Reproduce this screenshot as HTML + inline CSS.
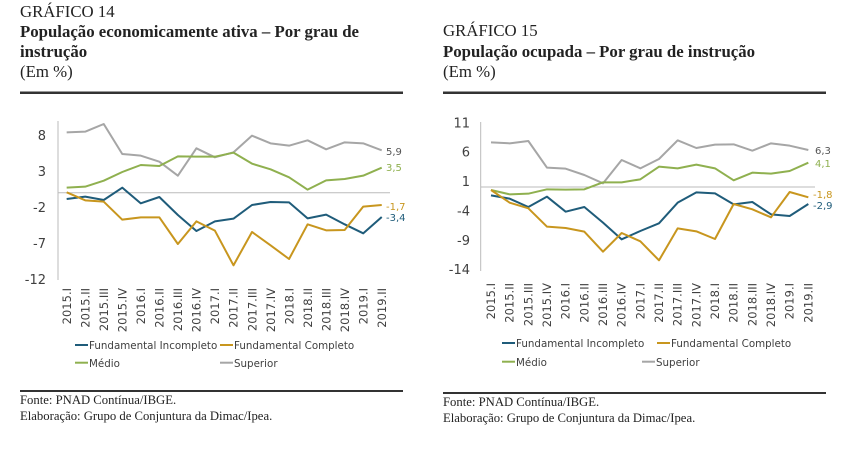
<!DOCTYPE html>
<html><head><meta charset="utf-8"><style>
body{margin:0;background:#fff;width:841px;height:463px;overflow:hidden}
svg{display:block}
.t{font-family:"Liberation Serif",serif;fill:#222}
.a{font-family:"DejaVu Sans","Liberation Sans",sans-serif;fill:#404040}
</style></head><body>
<svg width="841" height="463" viewBox="0 0 841 463" xmlns="http://www.w3.org/2000/svg">
<text class="t" x="20" y="17" font-size="16.8">GRÁFICO 14</text>
<text class="t" x="20" y="37" font-size="16.8" font-weight="bold">População economicamente ativa – Por grau de</text>
<text class="t" x="20" y="57" font-size="16.8" font-weight="bold">instrução</text>
<text class="t" x="20" y="77" font-size="16.8">(Em %)</text>
<rect x="20" y="91.5" width="383" height="2.5" fill="#333"/>
<text class="t" x="443" y="36" font-size="16.8">GRÁFICO 15</text>
<text class="t" x="443" y="57" font-size="16.8" font-weight="bold">População ocupada – Por grau de instrução</text>
<text class="t" x="443" y="77" font-size="16.8">(Em %)</text>
<rect x="443" y="91.5" width="383" height="2.5" fill="#333"/>
<rect x="20" y="390" width="383" height="2" fill="#333"/>
<text class="t" x="20" y="404" font-size="12.7">Fonte: PNAD Contínua/IBGE.</text>
<text class="t" x="20" y="420" font-size="12.7">Elaboração: Grupo de Conjuntura da Dimac/Ipea.</text>
<rect x="443" y="392" width="383" height="2" fill="#333"/>
<text class="t" x="443" y="406" font-size="12.7">Fonte: PNAD Contínua/IBGE.</text>
<text class="t" x="443" y="422" font-size="12.7">Elaboração: Grupo de Conjuntura da Dimac/Ipea.</text>

<!-- Chart 1 -->
<line x1="58" y1="121" x2="58" y2="280" stroke="#bbb"/>
<line x1="58" y1="192.7" x2="390" y2="192.7" stroke="#bbb"/>
<g class="a" font-size="13" text-anchor="end">
<text x="46" y="140">8</text><text x="46" y="176">3</text><text x="46" y="212">-2</text><text x="46" y="248">-7</text><text x="46" y="284">-12</text>
</g>
<g transform="translate(0,100) scale(0.33333)" fill="none" stroke-width="6" stroke-linejoin="round">
<polyline stroke="#a6a6a6" points="200,97 255.6,95 311.2,72 366.8,162 422.4,167 478,185 533.6,227 589.2,145 644.8,172 700.4,157 756,107 811.6,130 867.2,137 922.8,121 978.4,148 1034,127 1089.6,130 1145.2,151"/>
<polyline stroke="#8fb04f" points="200,263 255.6,260 311.2,242 366.8,216 422.4,195 478,198 533.6,169 589.2,170 644.8,170 700.4,158 756,191 811.6,208 867.2,232 922.8,269 978.4,241 1034,237 1089.6,227 1145.2,203"/>
<polyline stroke="#1f5c7a" points="200,297 255.6,290 311.2,300 366.8,263 422.4,310 478,291 533.6,345 589.2,393 644.8,364 700.4,356 756,315 811.6,306 867.2,307 922.8,355 978.4,344 1034,373 1089.6,400 1145.2,351"/>
<polyline stroke="#c8961e" points="200,277 255.6,301 311.2,305 366.8,359 422.4,352 478,352 533.6,432 589.2,364 644.8,392 700.4,496 756,396 811.6,436 867.2,477 922.8,373 978.4,391 1034,390 1089.6,320 1145.2,315"/>
</g>
<g font-family="DejaVu Sans,Liberation Sans,sans-serif" font-size="10">
<text x="386" y="155" fill="#555">5,9</text>
<text x="386" y="171" fill="#8fb04f">3,5</text>
<text x="386" y="210" fill="#c8961e">-1,7</text>
<text x="386" y="221" fill="#1f5c7a">-3,4</text>
</g>
<g class="a" font-size="11.5" text-anchor="end">
<text transform="translate(71,288) rotate(-90)">2015.I</text>
<text transform="translate(89.5,288) rotate(-90)">2015.II</text>
<text transform="translate(108,288) rotate(-90)">2015.III</text>
<text transform="translate(126.5,288) rotate(-90)">2015.IV</text>
<text transform="translate(145.1,288) rotate(-90)">2016.I</text>
<text transform="translate(163.6,288) rotate(-90)">2016.II</text>
<text transform="translate(182.1,288) rotate(-90)">2016.III</text>
<text transform="translate(200.7,288) rotate(-90)">2016.IV</text>
<text transform="translate(219.2,288) rotate(-90)">2017.I</text>
<text transform="translate(237.7,288) rotate(-90)">2017.II</text>
<text transform="translate(256.3,288) rotate(-90)">2017.III</text>
<text transform="translate(274.8,288) rotate(-90)">2017.IV</text>
<text transform="translate(293.3,288) rotate(-90)">2018.I</text>
<text transform="translate(311.9,288) rotate(-90)">2018.II</text>
<text transform="translate(330.4,288) rotate(-90)">2018.III</text>
<text transform="translate(348.9,288) rotate(-90)">2018.IV</text>
<text transform="translate(367.4,288) rotate(-90)">2019.I</text>
<text transform="translate(386,288) rotate(-90)">2019.II</text>
</g>
<g class="a" font-size="10.3">
<line x1="75" y1="345" x2="88" y2="345" stroke="#1f5c7a" stroke-width="2"/><text x="89" y="349">Fundamental Incompleto</text>
<line x1="220" y1="345" x2="233" y2="345" stroke="#c8961e" stroke-width="2"/><text x="234" y="349">Fundamental Completo</text>
<line x1="75" y1="362.7" x2="88" y2="362.7" stroke="#8fb04f" stroke-width="2"/><text x="89" y="367">Médio</text>
<line x1="220" y1="362.7" x2="233" y2="362.7" stroke="#a6a6a6" stroke-width="2"/><text x="234" y="367">Superior</text>
</g>

<!-- Chart 2 -->
<line x1="480.7" y1="122" x2="480.7" y2="271" stroke="#bbb"/>
<line x1="480.7" y1="187" x2="815" y2="187" stroke="#bbb"/>
<g class="a" font-size="13" text-anchor="end">
<text x="470" y="127.5">11</text><text x="470" y="156.5">6</text><text x="470" y="186">1</text><text x="470" y="215.5">-4</text><text x="470" y="245">-9</text><text x="470" y="274">-14</text>
</g>
<g transform="translate(420,100) scale(0.33333)" fill="none" stroke-width="6" stroke-linejoin="round">
<polyline stroke="#a6a6a6" points="213,127 269,130 325,123 381,203 437,206 493,225 549,250 605,180 661,205 717,177 773,121 829,144 885,134 941,133 997,152 1053,130 1109,137 1165,150"/>
<polyline stroke="#8fb04f" points="213,270 269,283 325,281 381,268 437,269 493,268 549,247 605,247 661,238 717,200 773,205 829,194 885,205 941,241 997,218 1053,221 1109,213 1165,188"/>
<polyline stroke="#1f5c7a" points="213,286 269,296 325,321 381,290 437,335 493,321 549,368 605,418 661,393 717,370 773,308 829,277 885,280 941,313 997,306 1053,343 1109,348 1165,312"/>
<polyline stroke="#c8961e" points="213,270 269,308 325,325 381,380 437,384 493,395 549,455 605,399 661,424 717,481 773,385 829,394 885,417 941,312 997,328 1053,352 1109,276 1165,292"/>
</g>
<g font-family="DejaVu Sans,Liberation Sans,sans-serif" font-size="10">
<text x="815" y="154" fill="#555">6,3</text>
<text x="815" y="167" fill="#8fb04f">4,1</text>
<text x="813" y="198" fill="#c8961e">-1,8</text>
<text x="813" y="209" fill="#1f5c7a">-2,9</text>
</g>
<g class="a" font-size="11.5" text-anchor="end">
<text transform="translate(495,283) rotate(-90)">2015.I</text>
<text transform="translate(513.7,283) rotate(-90)">2015.II</text>
<text transform="translate(532.3,283) rotate(-90)">2015.III</text>
<text transform="translate(551,283) rotate(-90)">2015.IV</text>
<text transform="translate(569.7,283) rotate(-90)">2016.I</text>
<text transform="translate(588.3,283) rotate(-90)">2016.II</text>
<text transform="translate(607,283) rotate(-90)">2016.III</text>
<text transform="translate(625.7,283) rotate(-90)">2016.IV</text>
<text transform="translate(644.3,283) rotate(-90)">2017.I</text>
<text transform="translate(663,283) rotate(-90)">2017.II</text>
<text transform="translate(681.7,283) rotate(-90)">2017.III</text>
<text transform="translate(700.3,283) rotate(-90)">2017.IV</text>
<text transform="translate(719,283) rotate(-90)">2018.I</text>
<text transform="translate(737.7,283) rotate(-90)">2018.II</text>
<text transform="translate(756.3,283) rotate(-90)">2018.III</text>
<text transform="translate(775,283) rotate(-90)">2018.IV</text>
<text transform="translate(793.7,283) rotate(-90)">2019.I</text>
<text transform="translate(812.3,283) rotate(-90)">2019.II</text>
</g>
<g class="a" font-size="10.3">
<line x1="502" y1="343" x2="515" y2="343" stroke="#1f5c7a" stroke-width="2"/><text x="516" y="347">Fundamental Incompleto</text>
<line x1="657" y1="343" x2="670" y2="343" stroke="#c8961e" stroke-width="2"/><text x="671" y="347">Fundamental Completo</text>
<line x1="502" y1="361.7" x2="515" y2="361.7" stroke="#8fb04f" stroke-width="2"/><text x="516" y="366">Médio</text>
<line x1="642" y1="361.7" x2="655" y2="361.7" stroke="#a6a6a6" stroke-width="2"/><text x="656" y="366">Superior</text>
</g>
</svg>
</body></html>
